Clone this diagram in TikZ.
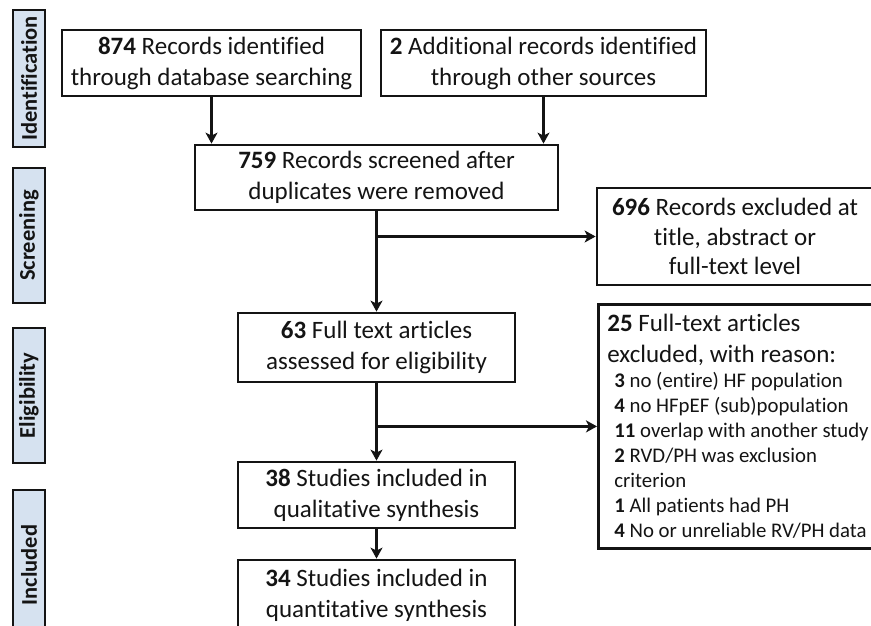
\documentclass[tikz,border=0pt]{standalone}
\usepackage{fontspec}
\setmainfont{Carlito}[Ligatures=CommonOff]
\usetikzlibrary{arrows.meta}
\definecolor{lblue}{RGB}{214,226,240}
\definecolor{ink}{RGB}{20,20,20}
\newcommand{\itemind}{\mbox{}\hspace*{7pt}}
\newcommand{\bigsz}{\fontsize{25}{31}\selectfont}
\newcommand{\smallsz}{\fontsize{20.8}{25}\selectfont}
\begin{document}
\begin{tikzpicture}[x=1pt,y=-1pt,
  box/.style={draw=ink, line width=2.8pt, align=center, inner sep=0pt, text=ink,
    font=\bigsz},
  stage/.style={draw=ink, fill=lblue, line width=2.8pt, rotate=90, inner sep=0pt,
    minimum height=32pt, text=ink, font=\bfseries\fontsize{22.5}{26}\selectfont},
  arr/.style={draw=ink, line width=2.8pt, -{Stealth[length=11pt,width=12pt,inset=3pt]}}]
\useasboundingbox (0,0) rectangle (871,625);
\clip (0,0) rectangle (871,625);
\fill[white] (0,0) rectangle (871,625);
% stage labels
\node[stage, minimum width=137pt] (sid) at (29,78.5) {Identification};
\node[stage, minimum width=135pt] (sscr) at (29,235.5) {Screening};
\node[stage, minimum width=135pt] (selig) at (29,395.5) {Eligibility};
\node[stage, minimum width=150pt] (sincl) at (29,565) {Included};
% boxes
\node[box, minimum width=299pt, minimum height=66pt] (b1) at (211.5,63)
  {\textbf{874} Records identified\\through database searching};
\node[box, minimum width=325pt, minimum height=66pt] (b2) at (543.5,63)
  {\textbf{2} Additional records identified\\through other sources};
\node[box, minimum width=363pt, minimum height=65pt] (b3) at (376.5,177.5)
  {\textbf{759} Records screened after\\duplicates were removed};
\node[box, minimum width=276pt, minimum height=97pt,
  font=\fontsize{25}{29.5}\selectfont] (b696) at (735,236.5)
  {\textbf{696} Records excluded at\\title, abstract or\\full-text level};
\node[box, minimum width=277pt, minimum height=69pt] (b4) at (376.5,347.5)
  {\textbf{63} Full text articles\\assessed for eligibility};
\node[box, anchor=north west, align=flush left, text width=300pt, inner xsep=9pt,
  minimum height=244pt, font=\smallsz] (b25) at (597,303)
  {\bigsz\textbf{25} Full-text articles\\excluded, with reason:\\
   \smallsz
   \itemind\textbf{3} no (entire) HF population\\
   \itemind\textbf{4} no HFpEF (sub)population\\
   \itemind\textbf{11} overlap with another study\\
   \itemind\textbf{2} RVD/PH was exclusion\\
   \itemind criterion\\
   \itemind\textbf{1} All patients had PH\\
   \itemind\textbf{4} No or unreliable RV/PH data};
\node[box, minimum width=277pt, minimum height=66pt] (b5) at (376.5,495)
  {\textbf{38} Studies included in\\qualitative synthesis};
\node[box, minimum width=277pt, minimum height=70pt] (b6) at (376.5,595)
  {\textbf{34} Studies included in\\quantitative synthesis};
% connectors
\draw[arr] (b1.south) -- (b1.south |- b3.north);
\draw[arr] (b2.south) -- (b2.south |- b3.north);
\draw[arr] (b3.south) -- (b4.north);
\coordinate (j1) at (b3.south |- b696.west);
\draw[arr] (j1) -- (b696.west);
\draw[arr] (b4.south) -- (b5.north);
\coordinate (j2) at (b4.south |- b25.west);
\draw[arr] (j2) -- (b25.west);
\draw[arr] (b5.south) -- (b6.north);
\end{tikzpicture}
\end{document}
